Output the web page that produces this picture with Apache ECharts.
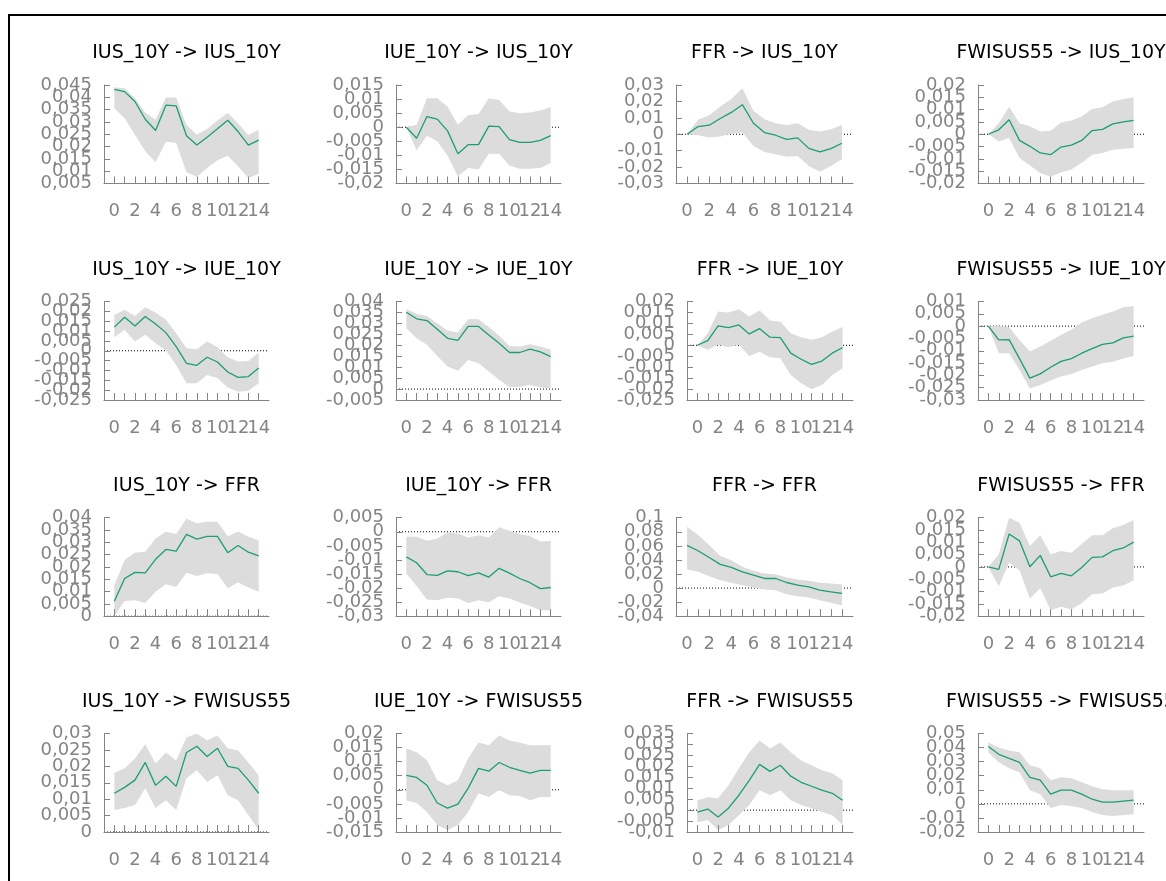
<!DOCTYPE html>
<html lang="en">
<head>
    <meta charset="UTF-8">
    <title>Impulse responses</title>
    <script src="https://cdn.jsdelivr.net/npm/echarts@6/dist/echarts.min.js"></script>
</head>
<style>
    body { margin: 0; background: #fff; }
    .irf { width: 1166px; height: 881px; }
</style>
<body>
<div id="irf" class="irf"></div>

<script>
    // horizons and variable names
    const horizons = [0, 1, 2, 3, 4, 5, 6, 7, 8, 9, 10, 11, 12, 13, 14];
    const xTicksA = [0, 4, 8, 12];
    const xTicksB = [2, 6, 10, 14];
    const vars = ['IUS_10Y', 'IUE_10Y', 'FFR', 'FWISUS55'];

    // response of IUS_10Y
    const ius_ius_mid = [0.0432, 0.0423, 0.0383, 0.0311, 0.0265, 0.0368, 0.0365, 0.0244, 0.0206, 0.0238, 0.0272, 0.0307, 0.0261, 0.0206, 0.0226];
    const ius_ius_lo = [0.0356, 0.0315, 0.0248, 0.0181, 0.0136, 0.0220, 0.0214, 0.0096, 0.0077, 0.0113, 0.0144, 0.0163, 0.0120, 0.0072, 0.0090];
    const ius_ius_hi = [0.0441, 0.0437, 0.0396, 0.0338, 0.0309, 0.0399, 0.0399, 0.0288, 0.0248, 0.0271, 0.0306, 0.0336, 0.0295, 0.0247, 0.0268];

    const iue_ius_mid = [0, -0.0039, 0.0038, 0.0029, -0.0013, -0.0094, -0.0062, -0.0062, 0.0004, 0.0002, -0.0044, -0.0054, -0.0054, -0.0047, -0.0030];
    const iue_ius_lo = [0, -0.0082, -0.0030, -0.0050, -0.0101, -0.0174, -0.0145, -0.0150, -0.0094, -0.0094, -0.0136, -0.0148, -0.0148, -0.0145, -0.0127];
    const iue_ius_hi = [0, 0.0009, 0.0103, 0.0103, 0.0073, 0.0009, 0.0043, 0.0047, 0.0103, 0.0097, 0.0056, 0.0050, 0.0052, 0.0059, 0.0071];

    const ffr_ius_mid = [0, 0.0047, 0.0055, 0.0096, 0.0133, 0.0180, 0.0067, 0.0010, -0.0006, -0.0031, -0.0022, -0.0086, -0.0108, -0.0088, -0.0055];
    const ffr_ius_lo = [0, -0.0006, -0.0020, -0.0014, 0.0003, 0.0012, -0.0071, -0.0108, -0.0122, -0.0137, -0.0133, -0.0194, -0.0229, -0.0194, -0.0153];
    const ffr_ius_hi = [0, 0.0088, 0.0116, 0.0169, 0.0214, 0.0280, 0.0143, 0.0092, 0.0067, 0.0057, 0.0067, 0.0027, 0.0016, 0.0031, 0.0057];

    const fwi_ius_mid = [0, 0.0018, 0.0059, -0.0025, -0.0049, -0.0076, -0.0083, -0.0052, -0.0044, -0.0025, 0.0015, 0.0020, 0.0042, 0.0050, 0.0056];
    const fwi_ius_lo = [0, -0.0029, -0.0015, -0.0096, -0.0127, -0.0157, -0.0173, -0.0154, -0.0143, -0.0116, -0.0083, -0.0076, -0.0063, -0.0059, -0.0056];
    const fwi_ius_hi = [0, 0.0045, 0.0112, 0.0045, 0.0032, 0.0011, 0.0014, 0.0048, 0.0056, 0.0072, 0.0103, 0.0110, 0.0133, 0.0143, 0.0150];

    // response of IUE_10Y
    const ius_iue_mid = [0.0120, 0.0170, 0.0126, 0.0174, 0.0136, 0.0092, 0.0021, -0.0064, -0.0074, -0.0033, -0.0057, -0.0108, -0.0135, -0.0131, -0.0087];
    const ius_iue_lo = [0.0069, 0.0106, 0.0047, 0.0081, 0.0038, 0.0001, -0.0072, -0.0165, -0.0165, -0.0123, -0.0140, -0.0186, -0.0208, -0.0203, -0.0165];
    const ius_iue_hi = [0.0182, 0.0208, 0.0177, 0.0221, 0.0194, 0.0157, 0.0089, 0.0013, 0.0008, 0.0047, 0.0018, -0.0033, -0.0055, -0.0052, -0.0009];

    const iue_iue_mid = [0.0351, 0.0321, 0.0313, 0.0273, 0.0232, 0.0222, 0.0286, 0.0286, 0.0247, 0.0209, 0.0167, 0.0167, 0.0182, 0.0170, 0.0148];
    const iue_iue_lo = [0.0278, 0.0232, 0.0202, 0.0151, 0.0103, 0.0084, 0.0133, 0.0118, 0.0080, 0.0042, 0.0008, 0.0011, 0.0019, 0.0008, 0.0003];
    const iue_iue_hi = [0.0365, 0.0344, 0.0334, 0.0301, 0.0267, 0.0258, 0.0319, 0.0319, 0.0283, 0.0243, 0.0197, 0.0194, 0.0205, 0.0194, 0.0179];

    const ffr_iue_mid = [0, 0.0021, 0.0089, 0.0081, 0.0093, 0.0052, 0.0076, 0.0037, 0.0035, -0.0036, -0.0064, -0.0087, -0.0072, -0.0036, -0.0010];
    const ffr_iue_lo = [0, -0.0021, 0.0002, -0.0009, 0.0002, -0.0049, -0.0029, -0.0055, -0.0059, -0.0136, -0.0174, -0.0201, -0.0181, -0.0136, -0.0105];
    const ffr_iue_hi = [0, 0.0055, 0.0154, 0.0150, 0.0165, 0.0131, 0.0159, 0.0113, 0.0108, 0.0055, 0.0037, 0.0025, 0.0037, 0.0063, 0.0083];

    const fwi_iue_mid = [0, -0.0056, -0.0055, -0.0132, -0.0211, -0.0194, -0.0167, -0.0143, -0.0132, -0.0110, -0.0091, -0.0074, -0.0068, -0.0048, -0.0041];
    const fwi_iue_lo = [0, -0.0110, -0.0110, -0.0178, -0.0253, -0.0239, -0.0221, -0.0205, -0.0194, -0.0178, -0.0164, -0.0151, -0.0145, -0.0131, -0.0121];
    const fwi_iue_hi = [0, 0.0001, -0.0004, -0.0056, -0.0103, -0.0083, -0.0059, -0.0036, -0.0015, 0.0015, 0.0032, 0.0046, 0.0059, 0.0077, 0.0082];

    // response of FFR
    const ius_ffr_mid = [0.0061, 0.0153, 0.0178, 0.0176, 0.0231, 0.0271, 0.0264, 0.0332, 0.0313, 0.0324, 0.0324, 0.0258, 0.0287, 0.0260, 0.0245];
    const ius_ffr_lo = [0.0001, 0.0062, 0.0065, 0.0054, 0.0099, 0.0130, 0.0119, 0.0176, 0.0163, 0.0174, 0.0171, 0.0113, 0.0138, 0.0117, 0.0099];
    const ius_ffr_hi = [0.0126, 0.0228, 0.0258, 0.0262, 0.0316, 0.0343, 0.0334, 0.0396, 0.0377, 0.0384, 0.0384, 0.0325, 0.0344, 0.0323, 0.0307];

    const iue_ffr_mid = [-0.0089, -0.0110, -0.0152, -0.0155, -0.0139, -0.0142, -0.0156, -0.0146, -0.0161, -0.0130, -0.0147, -0.0166, -0.0181, -0.0202, -0.0198];
    const iue_ffr_lo = [-0.0148, -0.0193, -0.0241, -0.0243, -0.0234, -0.0237, -0.0253, -0.0243, -0.0250, -0.0229, -0.0237, -0.0251, -0.0264, -0.0279, -0.0279];
    const iue_ffr_hi = [-0.0018, -0.0018, -0.0032, -0.0024, -0.0003, -0.0006, -0.0020, -0.0012, -0.0020, 0.0016, 0.0004, -0.0008, -0.0015, -0.0035, -0.0032];

    const ffr_ffr_mid = [0.0606, 0.0530, 0.0435, 0.0336, 0.0293, 0.0231, 0.0184, 0.0136, 0.0136, 0.0079, 0.0041, 0.0018, -0.0030, -0.0053, -0.0077];
    const ffr_ffr_lo = [0.0264, 0.0231, 0.0169, 0.0112, 0.0074, 0.0041, 0.0008, -0.0020, -0.0030, -0.0087, -0.0115, -0.0134, -0.0172, -0.0210, -0.0243];
    const ffr_ffr_hi = [0.0872, 0.0753, 0.0611, 0.0454, 0.0397, 0.0302, 0.0245, 0.0207, 0.0198, 0.0150, 0.0122, 0.0103, 0.0074, 0.0065, 0.0051];

    const fwi_ffr_mid = [0, -0.0010, 0.0134, 0.0106, 0.0001, 0.0047, -0.0040, -0.0026, -0.0036, -0.0002, 0.0039, 0.0041, 0.0066, 0.0077, 0.0101];
    const fwi_ffr_lo = [0, -0.0078, 0.0017, -0.0013, -0.0128, -0.0087, -0.0176, -0.0162, -0.0173, -0.0146, -0.0111, -0.0108, -0.0083, -0.0075, -0.0054];
    const fwi_ffr_hi = [0, 0.0052, 0.0200, 0.0180, 0.0085, 0.0129, 0.0052, 0.0065, 0.0058, 0.0093, 0.0129, 0.0129, 0.0157, 0.0170, 0.0191];

    // response of FWISUS55
    const ius_fwi_mid = [0.0118, 0.0136, 0.0158, 0.0212, 0.0142, 0.0170, 0.0139, 0.0242, 0.0261, 0.0230, 0.0255, 0.0200, 0.0194, 0.0158, 0.0118];
    const ius_fwi_lo = [0.0067, 0.0073, 0.0082, 0.0133, 0.0073, 0.0097, 0.0067, 0.0164, 0.0188, 0.0152, 0.0173, 0.0112, 0.0097, 0.0052, 0.0006];
    const ius_fwi_hi = [0.0180, 0.0194, 0.0224, 0.0267, 0.0209, 0.0242, 0.0218, 0.0288, 0.0300, 0.0279, 0.0294, 0.0255, 0.0248, 0.0212, 0.0173];

    const iue_fwi_mid = [0.0051, 0.0044, 0.0016, -0.0047, -0.0065, -0.0051, 0.0006, 0.0076, 0.0066, 0.0097, 0.0080, 0.0069, 0.0059, 0.0069, 0.0069];
    const iue_fwi_lo = [-0.0037, -0.0047, -0.0079, -0.0125, -0.0143, -0.0125, -0.0079, -0.0012, -0.0026, -0.0001, -0.0019, -0.0022, -0.0037, -0.0026, -0.0026];
    const iue_fwi_hi = [0.0147, 0.0133, 0.0105, 0.0034, 0.0016, 0.0034, 0.0112, 0.0168, 0.0158, 0.0193, 0.0175, 0.0168, 0.0158, 0.0158, 0.0158];

    const ffr_fwi_mid = [-0.0009, 0.0005, -0.0031, 0.0009, 0.0068, 0.0136, 0.0209, 0.0177, 0.0205, 0.0155, 0.0127, 0.0109, 0.0091, 0.0077, 0.0045];
    const ffr_fwi_lo = [-0.0055, -0.0045, -0.0091, -0.0068, -0.0023, 0.0023, 0.0091, 0.0068, 0.0091, 0.0045, 0.0023, 0.0009, -0.0009, -0.0023, -0.0068];
    const ffr_fwi_hi = [0.0045, 0.0059, 0.0054, 0.0114, 0.0191, 0.0264, 0.0318, 0.0282, 0.0309, 0.0264, 0.0227, 0.0205, 0.0182, 0.0168, 0.0136];

    const fwi_fwi_mid = [0.0408, 0.0352, 0.0323, 0.0295, 0.0189, 0.0168, 0.0069, 0.0097, 0.0097, 0.0069, 0.0033, 0.0012, 0.0012, 0.0019, 0.0026];
    const fwi_fwi_lo = [0.0366, 0.0295, 0.0253, 0.0224, 0.0097, 0.0069, -0.0030, -0.0009, -0.0016, -0.0030, -0.0058, -0.0080, -0.0087, -0.0080, -0.0073];
    const fwi_fwi_hi = [0.0436, 0.0401, 0.0380, 0.0366, 0.0274, 0.0253, 0.0168, 0.0189, 0.0182, 0.0154, 0.0125, 0.0104, 0.0097, 0.0097, 0.0097];

    // y axis ticks per panel (row = response, col = shock)
    const yMin = [0.005, -0.02, -0.03, -0.02, -0.025, -0.005, -0.025, -0.03, 0, -0.03, -0.04, -0.02, 0, -0.015, -0.01, -0.02];
    const yMax = [0.045, 0.015, 0.03, 0.02, 0.025, 0.04, 0.02, 0.01, 0.04, 0.005, 0.1, 0.02, 0.03, 0.02, 0.035, 0.05];
    const yStep = [0.005, 0.005, 0.01, 0.005, 0.005, 0.005, 0.005, 0.005, 0.005, 0.005, 0.02, 0.005, 0.005, 0.005, 0.005, 0.01];

    const mids = [ius_ius_mid, iue_ius_mid, ffr_ius_mid, fwi_ius_mid, ius_iue_mid, iue_iue_mid, ffr_iue_mid, fwi_iue_mid,
        ius_ffr_mid, iue_ffr_mid, ffr_ffr_mid, fwi_ffr_mid, ius_fwi_mid, iue_fwi_mid, ffr_fwi_mid, fwi_fwi_mid];
    const los = [ius_ius_lo, iue_ius_lo, ffr_ius_lo, fwi_ius_lo, ius_iue_lo, iue_iue_lo, ffr_iue_lo, fwi_iue_lo,
        ius_ffr_lo, iue_ffr_lo, ffr_ffr_lo, fwi_ffr_lo, ius_fwi_lo, iue_fwi_lo, ffr_fwi_lo, fwi_fwi_lo];
    const his = [ius_ius_hi, iue_ius_hi, ffr_ius_hi, fwi_ius_hi, ius_iue_hi, iue_iue_hi, ffr_iue_hi, fwi_iue_hi,
        ius_ffr_hi, iue_ffr_hi, ffr_ffr_hi, fwi_ffr_hi, ius_fwi_hi, iue_fwi_hi, ffr_fwi_hi, fwi_fwi_hi];

    // layout in pixels
    const gridLefts = [104, 396, 676, 978, 104, 396, 687, 978, 104, 396, 676, 978, 104, 396, 687, 978];
    const gridRights = [269, 561, 853, 1144];
    const rowTops = [85, 301.5, 517.7, 733.5];
    const plotH = 98.5;

    const grey = '#848484';
    const font = 'DejaVu Sans';

    function fmt(v) {
        return String(Math.round(v * 1e6) / 1e6).replace('.', ',');
    }

    // tick values of a y axis, split in two alternating groups so that
    // the overlapping labels are all kept (one axis for each group)
    function yTickGroup(i, parity) {
        let out = [];
        let n = Math.round((yMax[i] - yMin[i]) / yStep[i]);
        for (let k = parity; k <= n; k += 2) out.push(+(yMin[i] + k * yStep[i]).toFixed(6));
        return out;
    }

    let option = {
        backgroundColor: '#fff',
        animation: false,
        title: [], grid: [], xAxis: [], yAxis: [], series: [],
        graphic: [{
            type: 'rect',
            shape: {x: 9, y: 15, width: 1200, height: 900},
            style: {fill: 'none', stroke: '#000', lineWidth: 2},
            silent: true
        }]
    };

    const labelStyle = {color: grey, fontSize: 18, fontFamily: font, hideOverlap: false};

    for (let i = 0; i < 16; i++) {
        let r = Math.floor(i / 4), c = i % 4;
        let left = gridLefts[i], right = gridRights[c];
        option.title.push({
            text: vars[c] + ' -> ' + vars[r],
            left: (left + right) / 2,
            top: rowTops[r] - 41,
            textAlign: 'center',
            padding: 0,
            textStyle: {fontFamily: font, fontSize: 19, fontWeight: 'normal', color: '#000'}
        });
        option.grid.push({
            left: left, top: rowTops[r], width: right - left, height: plotH,
            containLabel: false, outerBoundsMode: 'none'
        });
        // main x axis (line, ticks, half of the labels) and a label-only twin
        option.xAxis.push({
            type: 'value', gridIndex: i, position: 'bottom', min: -1, max: 15, interval: 1, z: 10,
            axisLine: {show: true, onZero: false, lineStyle: {color: grey, width: 1}},
            axisTick: {show: true, inside: true, length: 7, customValues: horizons, lineStyle: {color: grey, width: 1}},
            axisLabel: Object.assign({customValues: xTicksA, margin: 19}, labelStyle),
            splitLine: {show: false}
        });
        option.xAxis.push({
            type: 'value', gridIndex: i, position: 'bottom', offset: 0, min: -1, max: 15, interval: 1, z: 10,
            axisLine: {show: false, onZero: false},
            axisTick: {show: false},
            axisLabel: Object.assign({customValues: xTicksB, margin: 19}, labelStyle),
            splitLine: {show: false}
        });
        option.yAxis.push({
            type: 'value', gridIndex: i, position: 'left', min: yMin[i], max: yMax[i], interval: yStep[i], z: 10,
            axisLine: {show: true, onZero: false, lineStyle: {color: grey, width: 1}},
            axisTick: {show: true, inside: true, length: 6, lineStyle: {color: grey, width: 1}},
            axisLabel: Object.assign({customValues: yTickGroup(i, 0), margin: 12, formatter: fmt}, labelStyle),
            splitLine: {show: false}
        });
        option.yAxis.push({
            type: 'value', gridIndex: i, position: 'left', offset: 0, min: yMin[i], max: yMax[i], interval: yStep[i], z: 10,
            axisLine: {show: false, onZero: false},
            axisTick: {show: false},
            axisLabel: Object.assign({customValues: yTickGroup(i, 1), margin: 12, formatter: fmt}, labelStyle),
            splitLine: {show: false}
        });
        let xi = 2 * i, yi = 2 * i;
        // zero line, under the band
        option.series.push({
            type: 'line', xAxisIndex: xi, yAxisIndex: yi, z: 1, silent: true,
            data: [[-1, 0], [15, 0]], symbol: 'none',
            lineStyle: {color: '#000', width: 1, type: [1, 2]}
        });
        // confidence band drawn as one polygon through the axis scales
        option.series.push({
            type: 'custom', xAxisIndex: xi, yAxisIndex: yi, z: 2, silent: true, clip: true,
            data: horizons.map((h, k) => [h, los[i][k], his[i][k]]),
            encode: {x: 0, y: [1, 2]},
            renderItem: function (params, api) {
                if (params.dataIndex !== 0) return null;
                let pts = [];
                for (let k = 0; k < horizons.length; k++) pts.push(api.coord([horizons[k], his[i][k]]));
                for (let k = horizons.length - 1; k >= 0; k--) pts.push(api.coord([horizons[k], los[i][k]]));
                return {type: 'polygon', shape: {points: pts}, style: {fill: '#dcdcdc', stroke: null}};
            }
        });
        option.series.push({
            type: 'line', xAxisIndex: xi, yAxisIndex: yi, z: 3,
            data: horizons.map((h, k) => [h, mids[i][k]]), symbol: 'none',
            lineStyle: {color: '#1b9e74', width: 1.3}
        });
    }

    let chart = echarts.init(document.getElementById('irf'));
    chart.setOption(option);
</script>
</body>
</html>
